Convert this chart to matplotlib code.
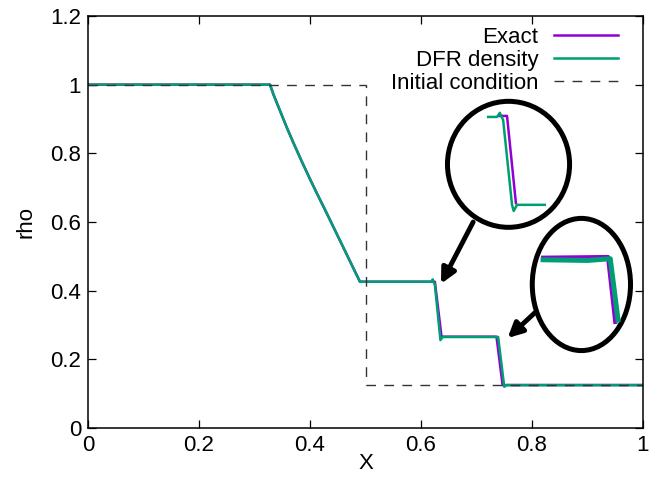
import matplotlib.pyplot as plt
from matplotlib.patches import Ellipse

plt.rcParams["font.family"] = ["Liberation Sans", "DejaVu Sans"]

# exact Riemann solution
exact_x = [0.0, 0.328, 0.334, 0.346, 0.358, 0.370, 0.385, 0.400, 0.415,
           0.430, 0.445, 0.460, 0.475, 0.490, 0.625, 0.637, 0.736, 0.747, 1.0]
exact_rho = [1.0, 1.0, 0.972, 0.924, 0.876, 0.831, 0.777, 0.725, 0.675,
             0.626, 0.576, 0.526, 0.476, 0.426, 0.426, 0.266, 0.266, 0.125, 0.125]

# DFR density, small over/undershoots at the contact and shock
dfr_x = [0.0, 0.328, 0.334, 0.346, 0.358, 0.370, 0.385, 0.400, 0.415,
         0.430, 0.445, 0.460, 0.475, 0.490, 0.619, 0.621, 0.625, 0.635,
         0.639, 0.739, 0.750, 0.754, 1.0]
dfr_rho = [1.0, 1.0, 0.972, 0.924, 0.876, 0.831, 0.777, 0.725, 0.675,
           0.626, 0.576, 0.526, 0.476, 0.426, 0.426, 0.433, 0.417, 0.256,
           0.265, 0.265, 0.120, 0.125, 0.125]

# initial condition
init_x = [0.0, 0.5, 0.5, 1.0]
init_rho = [1.0, 1.0, 0.125, 0.125]

# magnified views drawn inside the two circles
zoom1_exact_x = [0.741, 0.755, 0.771]
zoom1_exact_y = [0.909, 0.909, 0.655]
zoom1_dfr_x = [0.721, 0.737, 0.742, 0.748, 0.764, 0.767, 0.773, 0.823]
zoom1_dfr_y = [0.906, 0.906, 0.918, 0.897, 0.650, 0.632, 0.650, 0.650]

zoom2_exact_x = [0.820, 0.937, 0.950]
zoom2_exact_y = [0.496, 0.498, 0.309]
zoom2_dfr_x = [0.820, 0.860, 0.900, 0.941, 0.955]
zoom2_dfr_y = [0.490, 0.489, 0.488, 0.493, 0.315]

xticks = [0, 0.2, 0.4, 0.6, 0.8, 1]
yticks = [0, 0.2, 0.4, 0.6, 0.8, 1, 1.2]

c_exact = "#9400D3"
c_dfr = "#009E73"
fs = 16

fig = plt.figure(figsize=(6.62, 4.79), dpi=100)
ax = fig.add_axes([88 / 662, 1 - 428 / 479, (643 - 88) / 662, (428 - 16) / 479])

ax.plot(exact_x, exact_rho, color=c_exact, lw=1.8, label="Exact")
ax.plot(dfr_x, dfr_rho, color=c_dfr, lw=1.8, label="DFR density")
ax.plot(init_x, init_rho, color="#333333", lw=1.0, dashes=(7, 6),
        label="Initial condition")

# magnifier circles
ax.add_patch(Ellipse((0.7577, 0.768), 0.220, 0.367, fill=False,
                     edgecolor="black", lw=3.6))
ax.add_patch(Ellipse((0.889, 0.418), 0.177, 0.385, fill=False,
                     edgecolor="black", lw=3.6))
ax.plot(zoom1_exact_x, zoom1_exact_y, color=c_exact, lw=1.8)
ax.plot(zoom1_dfr_x, zoom1_dfr_y, color=c_dfr, lw=1.8)
ax.plot(zoom2_exact_x, zoom2_exact_y, color=c_exact, lw=3.0)
ax.plot(zoom2_dfr_x, zoom2_dfr_y, color=c_dfr, lw=3.6)

arrow = dict(arrowstyle="-|>", lw=3.5, color="black", mutation_scale=22,
             shrinkA=0, shrinkB=0)
ax.annotate("", xy=(0.636, 0.420), xytext=(0.694, 0.600), arrowprops=arrow)
ax.annotate("", xy=(0.756, 0.262), xytext=(0.806, 0.337), arrowprops=arrow)

ax.set_xlim(0, 1)
ax.set_ylim(0, 1.2)
ax.set_xticks(xticks)
ax.set_xticklabels(["0", "0.2", "0.4", "0.6", "0.8", "1"])
ax.set_yticks(yticks)
ax.set_yticklabels(["0", "0.2", "0.4", "0.6", "0.8", "1", "1.2"])
ax.tick_params(direction="in", top=True, right=True, length=5.8, width=0.9,
               labelsize=fs, pad=5)
for s in ax.spines.values():
    s.set_linewidth(1.1)

ax.set_xlabel("X", fontsize=fs, labelpad=-2)
ax.set_ylabel("rho", fontsize=fs, labelpad=10)

leg = ax.legend(loc="upper right", bbox_to_anchor=(0.967, 0.99),
                frameon=False, markerfirst=False, fontsize=fs,
                handlelength=2.9, handletextpad=0.68, labelspacing=0.1,
                borderaxespad=0.2, borderpad=0.1)

fig.savefig("out.png", dpi=100)
